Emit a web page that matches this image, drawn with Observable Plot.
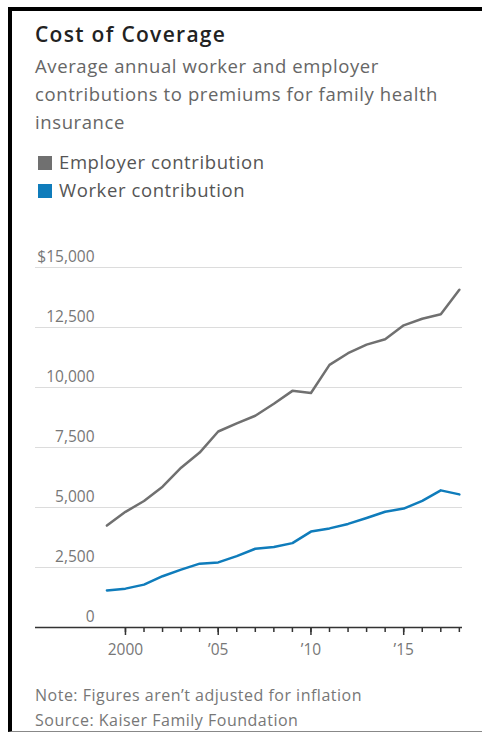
<!DOCTYPE html>
<html>
<head>
<meta charset="utf-8">
<script src="https://cdn.jsdelivr.net/npm/d3@7"></script>
<script src="https://cdn.jsdelivr.net/npm/@observablehq/plot@0.6"></script>
<style>
  html, body { margin: 0; padding: 0; background: #fff; }
  body { width: 482px; height: 732px; position: relative; overflow: hidden; font-family: "Open Sans", "Noto Sans", sans-serif; }
  #frame { position: absolute; left: 8px; top: 7px; width: 474px; height: 720px;
           border-top: 4px solid #000; border-left: 4px solid #000; border-bottom: 1px solid #888; }
  .abs { position: absolute; left: 35px; white-space: nowrap; }
  #title { top: 20px; font-size: 21px; font-weight: 600; color: #222; line-height: 28px; letter-spacing: 1.3px; }
  #subtitle { top: 52px; font-size: 18.5px; line-height: 28px; color: #666; letter-spacing: 0.6px; }
  #legend { top: 148px; font-size: 18.5px; line-height: 28px; color: #555; letter-spacing: 0.6px; }
  #legend .sw { display: inline-block; width: 14px; height: 14px; margin-right: 7px; vertical-align: -1px; margin-left: 3px; }
  #notes { top: 683px; font-size: 16px; line-height: 25px; color: #777; letter-spacing: 0.5px; }
  #chart { position: absolute; left: 0; top: 240px; }
</style>
</head>
<body>
<div id="frame"></div>
<div id="title" class="abs">Cost of Coverage</div>
<div id="subtitle" class="abs">Average annual worker and employer<br>contributions to premiums for family health<br>insurance</div>
<div id="legend" class="abs"></div>
<div id="chart"></div>
<div id="notes" class="abs">Note: Figures aren’t adjusted for inflation<br>Source: Kaiser Family Foundation</div>
<script>
const years = [1999, 2000, 2001, 2002, 2003, 2004, 2005, 2006, 2007, 2008, 2009, 2010, 2011, 2012, 2013, 2014, 2015, 2016, 2017, 2018];
const employer = [4247, 4819, 5269, 5866, 6657, 7289, 8167, 8508, 8824, 9325, 9860, 9773, 10944, 11429, 11786, 12011, 12591, 12865, 13049, 14069];
const worker = [1543, 1619, 1787, 2137, 2412, 2661, 2713, 2973, 3281, 3354, 3515, 3997, 4129, 4316, 4565, 4823, 4955, 5277, 5714, 5547];
const seriesNames = ["Employer contribution", "Worker contribution"];
const seriesColors = ["#707070", "#0f7cbb"];
const yTicks = [0, 2500, 5000, 7500, 10000, 12500, 15000];
const yTickLabels = ["0", "2,500", "5,000", "7,500", "10,000", "12,500", "$15,000"];
const xMajorTicks = [2000, 2005, 2010, 2015];
const xMajorLabels = ["2000", "’05", "’10", "’15"];

// legend
const legend = document.getElementById("legend");
seriesNames.forEach((name, i) => {
  const row = document.createElement("div");
  row.innerHTML = `<span class="sw" style="background:${seriesColors[i]}"></span>${name}`;
  legend.appendChild(row);
});

const rows = [];
years.forEach((yr, i) => {
  rows.push({year: yr, value: employer[i], series: seriesNames[0]});
  rows.push({year: yr, value: worker[i], series: seriesNames[1]});
});

const chart = Plot.plot({
  width: 482,
  height: 430,
  marginLeft: 35,
  marginRight: 20,
  marginTop: 27,
  marginBottom: 43,
  style: {fontFamily: "'Open Sans', 'Noto Sans', sans-serif", background: "transparent"},
  x: {domain: [1995.15, 2018.17]},
  y: {domain: [0, 15000]},
  color: {domain: seriesNames, range: seriesColors},
  marks: [
    Plot.ruleY(yTicks.filter(d => d > 0), {stroke: "#dcdcdc", strokeWidth: 1}),
    Plot.axisY({
      ticks: yTicks, tickSize: 0, tickPadding: 0, dx: 59, dy: -10,
      textAnchor: "end", fontSize: 15.5, fill: "#777",
      tickFormat: d => yTickLabels[yTicks.indexOf(d)], label: null
    }),
    Plot.axisX({ticks: years.filter(d => d >= 2000), tickSize: 5, stroke: "#333", strokeWidth: 1.5, tickFormat: () => "", label: null}),
    Plot.axisX({
      ticks: xMajorTicks, tickSize: 8, tickPadding: 8, stroke: "#333", strokeWidth: 1.5,
      fontSize: 15.5, fill: "#777",
      tickFormat: d => xMajorLabels[xMajorTicks.indexOf(d)], label: null
    }),
    Plot.ruleY([0], {stroke: "#333", strokeWidth: 1.5}),
    Plot.line(rows, {x: "year", y: "value", z: "series", stroke: "series", strokeWidth: 2.5, strokeLinejoin: "round"})
  ]
});
document.getElementById("chart").appendChild(chart);
</script>
</body>
</html>
